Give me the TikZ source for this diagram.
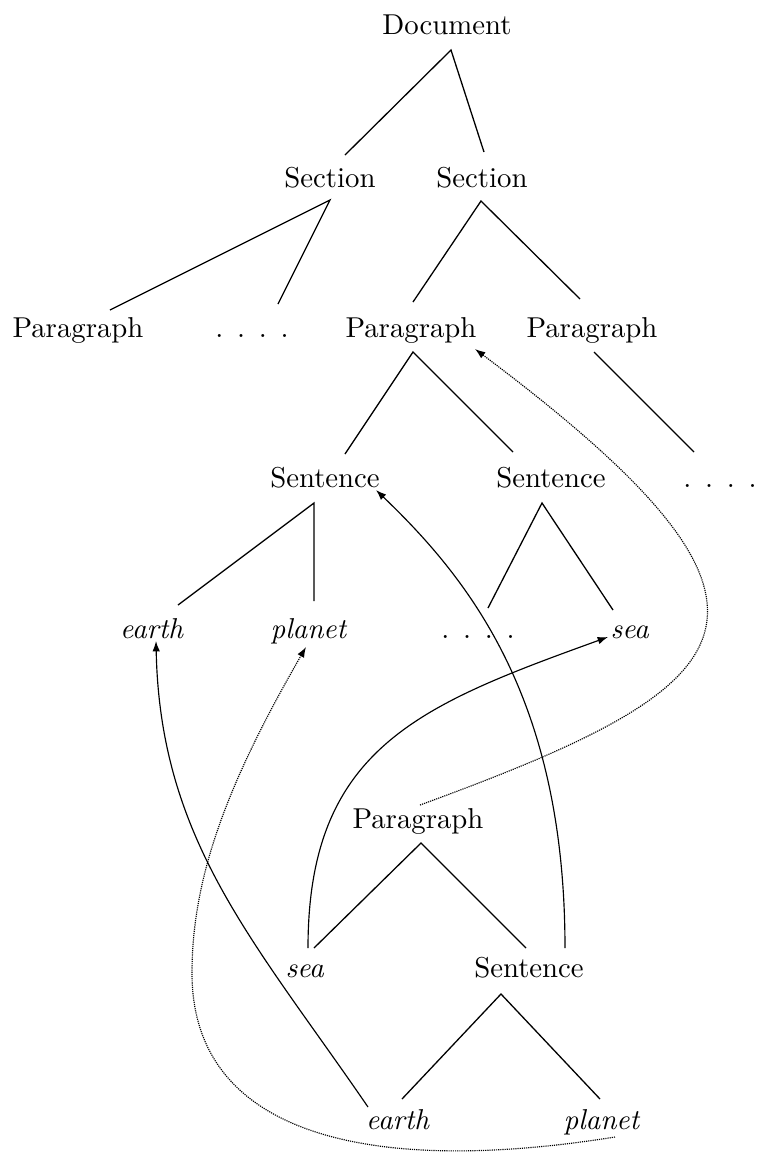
\documentclass[tikz,border=0pt]{standalone}
\usetikzlibrary{calc,arrows.meta}
\newcommand{\fourdots}{.\hspace{4.8pt}.\hspace{4.8pt}.\hspace{4.8pt}.}
\begin{document}
\begin{tikzpicture}[x=0.3477pt,y=-0.3477pt,
  word/.style={inner sep=0pt,anchor=base},
  edge/.style={line width=0.45pt},
  link/.style={line width=0.4pt,-{Latex[length=3.6pt,width=2.6pt]}},
  faint/.style={link,dash pattern=on 0.4pt off 0.35pt}]
\useasboundingbox (0,0) rectangle (758,1155);

% upper tree
\node[word] (doc)     at (447,34)   {Document};
\node[word] (secA)    at (330,187)  {Section};
\node[word] (secB)    at (482,187)  {Section};
\node[word] (parA)    at (78,337)   {Paragraph};
\node[word] (dotsA)   at (252,337)  {\fourdots};
\node[word] (parB)    at (411,337)  {Paragraph};
\node[word] (parC)    at (592,337)  {Paragraph};
\node[word] (senA)    at (325,487)  {Sentence};
\node[word] (senB)    at (551,487)  {Sentence};
\node[word] (dotsB)   at (720,487)  {\fourdots};
\node[word] (earthA)  at (152,638)  {\textit{earth}};
\node[word] (planetA) at (309,638)  {\textit{planet}};
\node[word] (dotsC)   at (478,638)  {\fourdots};
\node[word] (seaA)    at (630,638)  {\textit{sea}};

% lower tree
\node[word] (parD)    at (418,828)  {Paragraph};
\node[word] (seaB)    at (305,977)  {\textit{sea}};
\node[word] (senC)    at (529,977)  {Sentence};
\node[word] (earthB)  at (398,1129) {\textit{earth}};
\node[word] (planetB) at (602,1129) {\textit{planet}};

% tree edges
\draw[edge] ($(secA.base)+(15,-32)$) -- ($(doc.base)+(4,16)$) -- ($(secB.base)+(2,-35)$);
\draw[edge] ($(parA.base)+(32,-27)$) -- ($(secA.base)+(0,13)$) -- ($(dotsA.base)+(26,-33)$);
\draw[edge] ($(parB.base)+(2,-35)$) -- ($(secB.base)+(-1,14)$) -- ($(parC.base)+(-12,-38)$);
\draw[edge] ($(senA.base)+(20,-33)$) -- ($(parB.base)+(2,15)$) -- ($(senB.base)+(-38,-35)$);
\draw[edge] ($(parC.base)+(2,15)$) -- ($(dotsB.base)+(-26,-35)$);
\draw[edge] ($(earthA.base)+(26,-33)$) -- ($(senA.base)+(-11,16)$) -- ($(planetA.base)+(5,-37)$);
\draw[edge] ($(dotsC.base)+(10,-30)$) -- ($(senB.base)+(-9,16)$) -- ($(seaA.base)+(-17,-28)$);
\draw[edge] ($(seaB.base)+(9,-29)$) -- ($(parD.base)+(3,15)$) -- ($(senC.base)+(-3,-29)$);
\draw[edge] ($(earthB.base)+(4,-30)$) -- ($(senC.base)+(-28,17)$) -- ($(planetB.base)+(-2,-30)$);

% links between the two trees
\draw[link] ($(senC.base)+(36,-29)$) .. controls +(0,-248) and +(94,90) .. ($(senA.base)+(51,3)$);
\draw[faint] ($(parD.base)+(2,-23)$) .. controls +(328,-120) and +(355,266) .. ($(parB.base)+(64,12)$);
\draw[link] ($(seaB.base)+(3,-29)$) .. controls +(0,-200) and +(-188,68) .. ($(seaA.base)+(-22,-1)$);
\draw[link] ($(earthB.base)+(-30,-22)$) .. controls +(-113,-165) and +(4,200) .. ($(earthA.base)+(4,3)$);
\draw[faint] ($(planetB.base)+(13,8)$) .. controls +(-250,40) and +(0,160) .. ($(planetA.base)+(-117,335)$)
  .. controls +(0,-100) and +(-75,130) .. ($(planetA.base)+(-3,9)$);
\end{tikzpicture}
\end{document}
